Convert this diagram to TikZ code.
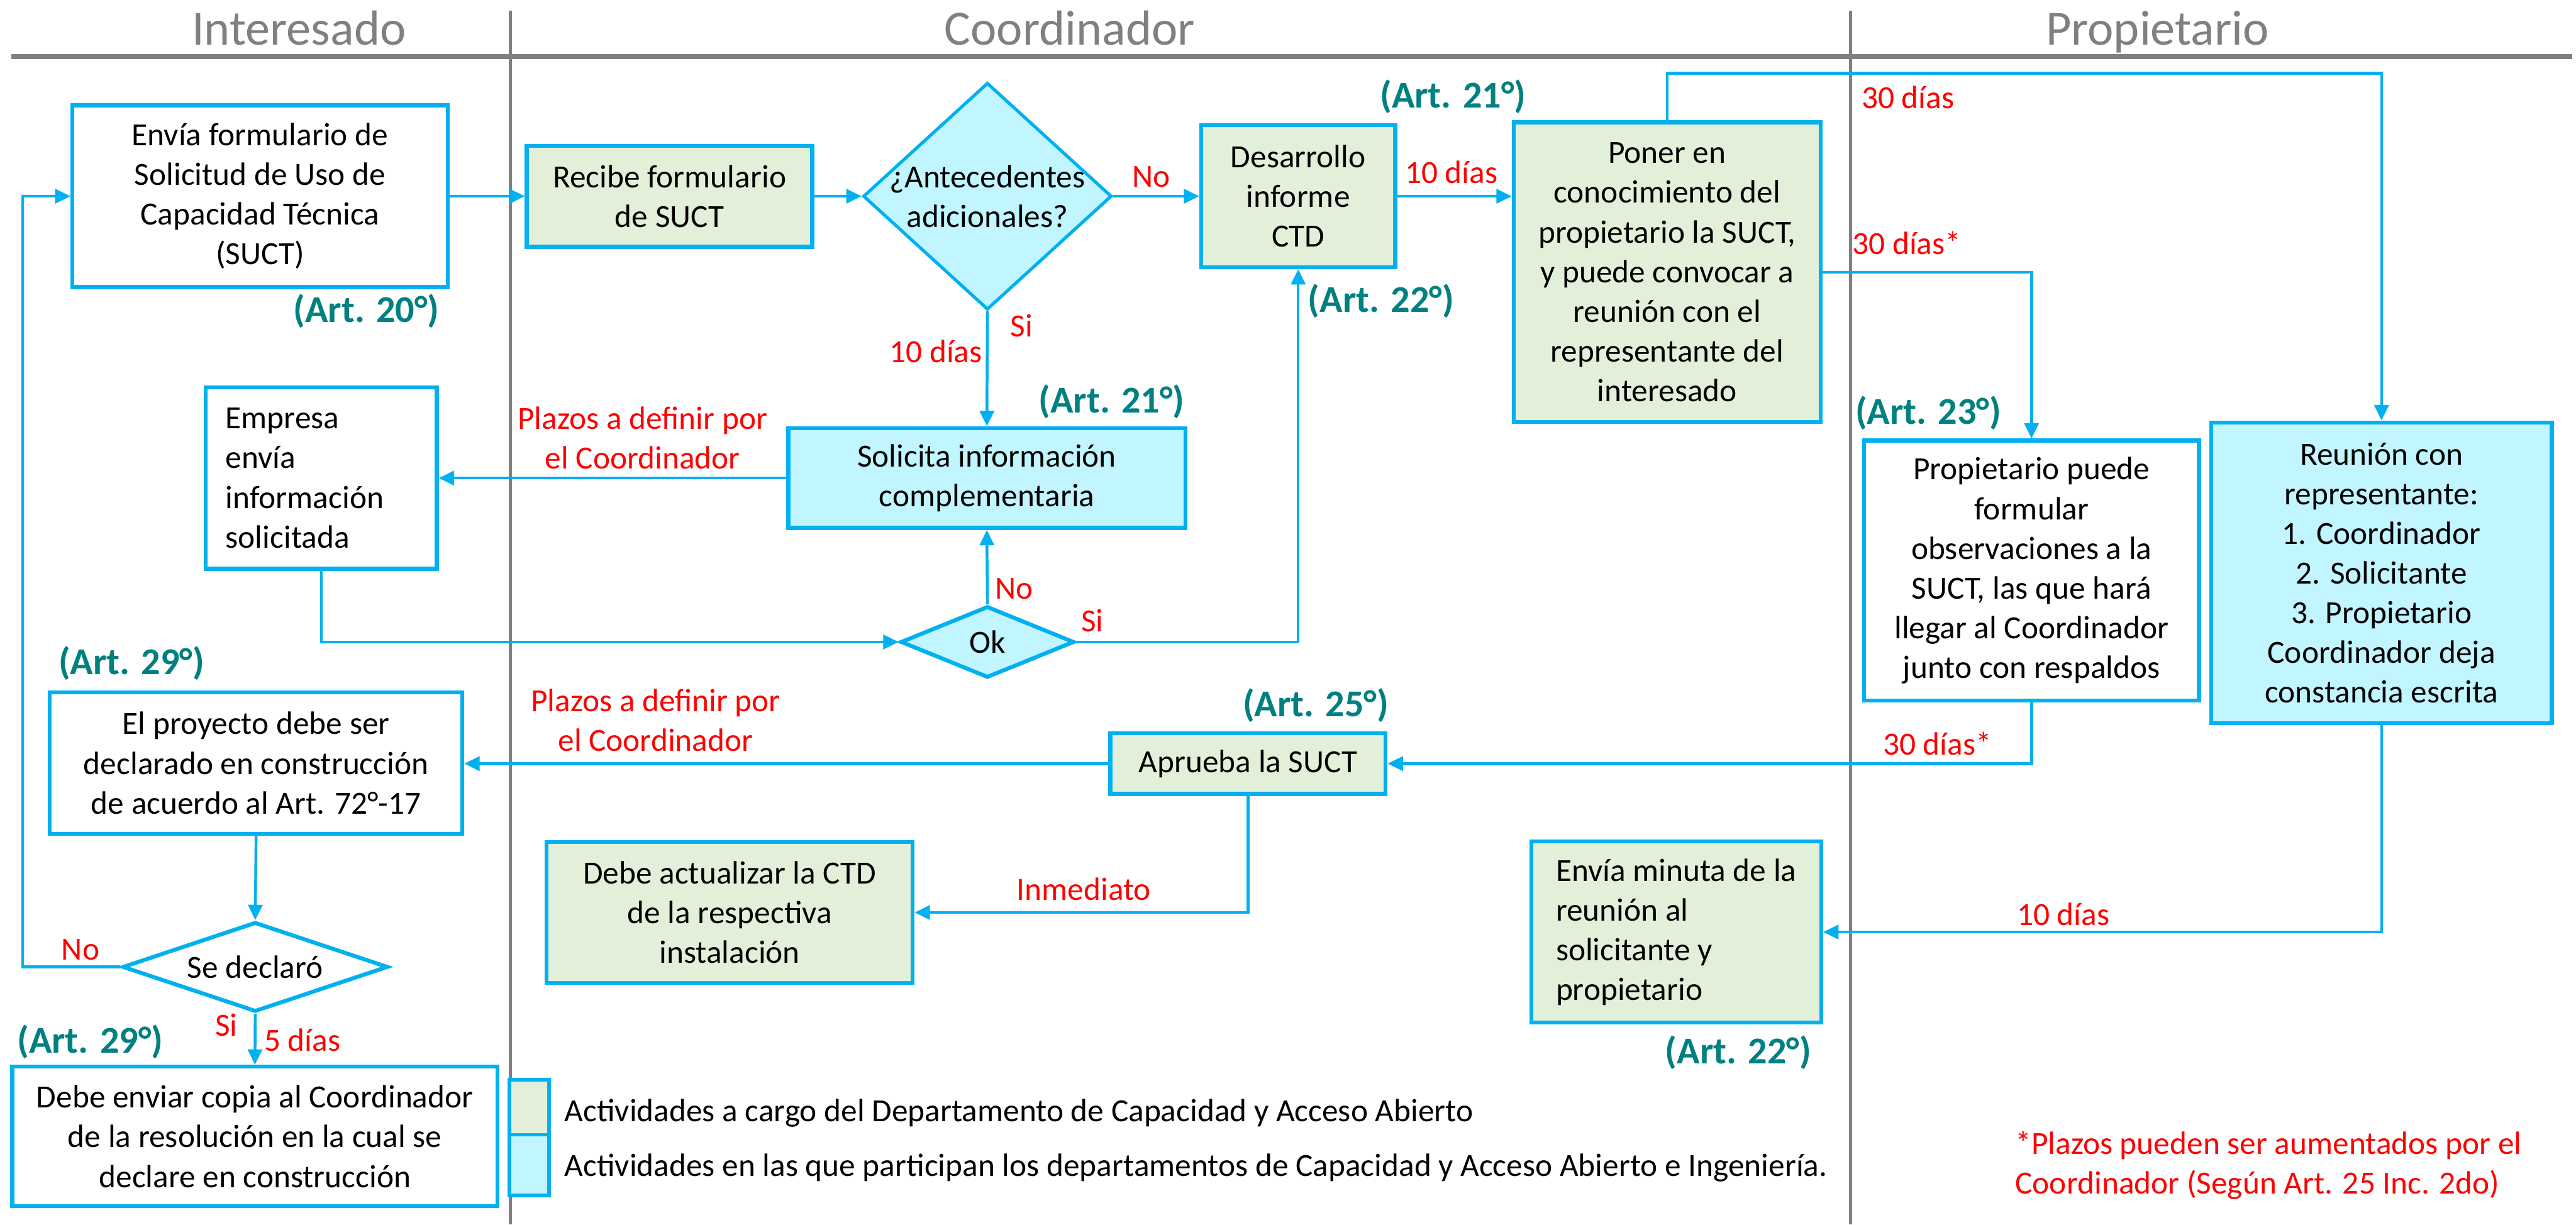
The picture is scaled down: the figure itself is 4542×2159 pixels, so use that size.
\documentclass[tikz,border=0pt]{standalone}
\usepackage{fontspec}
\setmainfont{Carlito}
\usetikzlibrary{arrows.meta,shapes.geometric}

\definecolor{lineblue}{RGB}{0,176,240}
\definecolor{fillgreen}{RGB}{226,240,217}
\definecolor{fillcyan}{RGB}{193,245,255}
\definecolor{artteal}{RGB}{0,128,128}
\definecolor{lanegray}{RGB}{128,128,128}
\definecolor{notered}{RGB}{255,0,0}

\tikzset{
  body/.style={font=\fontsize{16.2}{19.9}\selectfont},
  box/.style={draw=lineblue, line width=2pt, inner sep=0pt, body, align=center},
  gbox/.style={box, fill=fillgreen},
  cbox/.style={box, fill=fillcyan},
  wbox/.style={box, fill=white},
  dia/.style={diamond, draw=lineblue, line width=2pt, inner sep=0pt},
  conn/.style={draw=lineblue, line width=1.4pt, -{Triangle[length=0.27cm,width=0.25cm]}},
  art/.style={text=artteal, font=\fontsize{19}{23}\selectfont\bfseries},
  dlabel/.style={text=notered, body, align=center},
  lane/.style={text=lanegray, font=\fontsize{24.7}{30}\selectfont, anchor=base},
  legsq/.style={draw=lineblue, line width=1.8pt, inner sep=0pt},
}

\begin{document}
\begin{tikzpicture}[x=0.01cm,y=-0.01cm]
\useasboundingbox (0,0) rectangle (4542,2159);

% lanes
\draw[lanegray, line width=2.5pt] (20,100) -- (4535,100);
\draw[lanegray, line width=1.4pt] (900,19) -- (900,2159);
\draw[lanegray, line width=1.4pt] (3263,19) -- (3263,2159);
\node[lane] (laneA) at (527,79) {Interesado};
\node[lane] (laneB) at (1886,79) {Coordinador};
\node[lane] (laneC) at (3804,79) {Propietario};

% activities
\node[wbox, minimum width=6.61cm, minimum height=3.20cm] (envia) at (458.5,346) {Envía formulario de\\Solicitud de Uso de\\Capacidad Técnica\\(SUCT)};
\node[gbox, minimum width=5.03cm, minimum height=1.78cm] (recibe) at (1180.5,346) {Recibe formulario\\de SUCT};
\node[dia, fill=fillcyan, line width=1.6pt, minimum width=4.38cm, minimum height=4.0cm] (d1) at (1741,346) {};
\node[body, align=center] (d1t) at (d1) {¿Antecedentes\\adicionales?};
\node[gbox, minimum width=3.42cm, minimum height=2.50cm] (desarrollo) at (2289,346) {Desarrollo\\informe\\CTD};
\node[gbox, minimum width=5.41cm, minimum height=5.28cm] (poner) at (2939.5,480) {Poner en\\conocimiento del\\propietario la SUCT,\\y puede convocar a\\reunión con el\\representante del\\interesado};
\node[wbox, minimum width=4.07cm, minimum height=3.20cm, text width=3.37cm, align=left] (empresa) at (566.5,843) {Empresa\\envía\\información\\solicitada};
\node[cbox, minimum width=7.00cm, minimum height=1.76cm] (solicita) at (1740,843) {Solicita información\\complementaria};
\node[dia, fill=fillcyan, minimum width=3.06cm, minimum height=1.26cm] (ok) at (1741,1132) {};
\node[body] (okt) at (ok) {Ok};
\node[wbox, minimum width=5.90cm, minimum height=4.58cm] (prop) at (3582,1006) {Propietario puede\\formular\\observaciones a la\\SUCT, las que hará\\llegar al Coordinador\\junto con respaldos};
\node[cbox, minimum width=6.00cm, minimum height=5.30cm] (reunion) at (4199,1010) {Reunión con\\representante:\\1. Coordinador\\2. Solicitante\\3. Propietario\\Coordinador deja\\constancia escrita};
\node[gbox, minimum width=4.85cm, minimum height=1.07cm] (aprueba) at (2200.5,1346.5) {Aprueba la SUCT};
\node[wbox, minimum width=7.27cm, minimum height=2.49cm] (proyecto) at (451.5,1345.5) {El proyecto debe ser\\declarado en construcción\\de acuerdo al Art. 72°-17};
\node[gbox, minimum width=6.45cm, minimum height=2.48cm] (actualizar) at (1286.5,1609) {Debe actualizar la CTD\\de la respectiva\\instalación};
\node[gbox, minimum width=5.11cm, minimum height=3.19cm, align=left] (minuta) at (2955.5,1643.5) {Envía minuta de la\\reunión al\\solicitante y\\propietario};
\node[dia, fill=white, minimum width=4.68cm, minimum height=1.58cm] (sedec) at (450,1705) {};
\node[body] (sedect) at (sedec) {Se declaró};
\node[wbox, minimum width=8.55cm, minimum height=2.46cm] (enviar) at (449.5,2004) {Debe enviar copia al Coordinador\\de la resolución en la cual se\\declare en construcción};

% connectors
\coordinate (loopx) at (40,0);
\coordinate (topy) at (0,129);
\draw[conn] (envia.east) -- (recibe.west);
\draw[conn] (recibe.east) -- (d1.west);
\draw[conn] (d1.east) -- (desarrollo.west);
\draw[conn] (desarrollo.east) -- (desarrollo.east -| poner.west);
\draw[conn] (d1.south) -- (solicita.north);
\draw[conn] (solicita.west) -- (solicita.west -| empresa.east);
\draw[conn] (empresa.south) |- (ok.west);
\draw[conn] (ok.north) -- (solicita.south);
\draw[conn] (ok.east) -| (desarrollo.south);
\draw[conn] (poner.north) |- (reunion.north |- topy) -- (reunion.north);
\draw[conn] (poner.east) -| (prop.north);
\draw[conn] (prop.south) |- (aprueba.east);
\draw[conn] (aprueba.west) -- (aprueba.west -| proyecto.east);
\draw[conn] (aprueba.south) |- (actualizar.east);
\draw[conn] (reunion.south) |- (minuta.east);
\draw[conn] (proyecto.south) -- (sedec.north);
\draw[conn] (sedec.south) -- (enviar.north);
\draw[conn] (sedec.west) -- (sedec.west -| loopx) |- (envia.west);

% article references
\node[art] (a20) at (646,549) {(Art. 20°)};
\node[art] (a21a) at (2562,170) {(Art. 21°)};
\node[art] (a22a) at (2435,531) {(Art. 22°)};
\node[art] (a21b) at (1960,708) {(Art. 21°)};
\node[art] (a29a) at (232,1170) {(Art. 29°)};
\node[art] (a25) at (2320,1244) {(Art. 25°)};
\node[art] (a23) at (3400,728) {(Art. 23°)};
\node[art] (a22b) at (3065,1856) {(Art. 22°)};
\node[art] (a29b) at (159,1837) {(Art. 29°)};

% deadlines and branch labels
\node[dlabel] (l1) at (2030,312) {No};
\node[dlabel] (l2) at (2559,304) {10 días};
\node[dlabel] (l3) at (1801,574) {Si};
\node[dlabel] (l4) at (1650,620) {10 días};
\node[dlabel] (l5) at (1133,772) {Plazos a definir por\\el Coordinador};
\node[dlabel] (l6) at (1788,1038) {No};
\node[dlabel] (l7) at (1926,1094) {Si};
\node[dlabel] (l8) at (1156,1270) {Plazos a definir por\\el Coordinador};
\node[dlabel, anchor=west] (l9) at (3270,172) {30 días};
\node[dlabel] (l10) at (3362,429) {30 días*};
\node[dlabel] (l11) at (3416,1311) {30 días*};
\node[dlabel] (l12) at (1911,1568) {Inmediato};
\node[dlabel] (l13) at (3638,1612) {10 días};
\node[dlabel] (l14) at (142,1675) {No};
\node[dlabel] (l15) at (399,1807) {Si};
\node[dlabel] (l16) at (533,1834) {5 días};
\node[dlabel, anchor=west, align=left] (note) at (3541,2055) {*Plazos pueden ser aumentados por el\\Coordinador (Según Art. 25 Inc. 2do)};

% legend
\node[legsq, fill=fillgreen, minimum width=0.70cm, minimum height=0.97cm] (leg1) at (933,1952.5) {};
\node[legsq, fill=fillcyan, minimum width=0.70cm, minimum height=1.07cm] (leg2) at (933,2054.5) {};
\node[body, anchor=west] (leg1t) at (983,1963) {Actividades a cargo del Departamento de Capacidad y Acceso Abierto};
\node[body, anchor=west] (leg2t) at (983,2059) {Actividades en las que participan los departamentos de Capacidad y Acceso Abierto e Ingeniería.};
\end{tikzpicture}
\end{document}
